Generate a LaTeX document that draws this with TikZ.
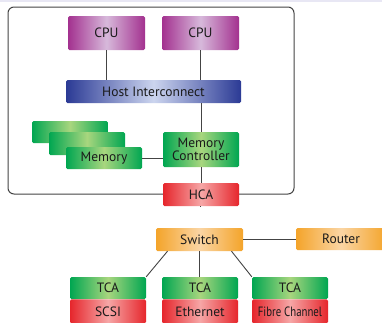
\documentclass[tikz,border=0pt]{standalone}
\usepackage{graphicx}
\usepackage{fontspec}
\setmainfont{PT Sans}
\definecolor{magEdge}{HTML}{A3318F}
\definecolor{magMid}{HTML}{D7B9DB}
\definecolor{bluEdge}{HTML}{2B3A95}
\definecolor{bluMid}{HTML}{CCD5EF}
\definecolor{grnEdge}{HTML}{00A651}
\definecolor{grnMid}{HTML}{A8D67E}
\definecolor{redEdge}{HTML}{E6262C}
\definecolor{redMid}{HTML}{F6A6A6}
\definecolor{orgEdge}{HTML}{F4A42A}
\definecolor{orgMid}{HTML}{FAD5A4}
\definecolor{wire}{HTML}{444444}
\definecolor{inkText}{HTML}{1A1A1A}
\definecolor{topStrip}{HTML}{E8E7F4}
\tikzset{
  unit/.style={rectangle, rounded corners=1.5pt, inner sep=0pt, text=inkText,
    font=\fontsize{13.5}{13.5}\selectfont},
  cpubox/.style={unit, left color=magEdge, right color=magEdge, middle color=magMid},
  busbox/.style={unit, left color=bluEdge, right color=bluEdge, middle color=bluMid},
  grnbox/.style={unit, left color=grnEdge, right color=grnEdge, middle color=grnMid},
  redbox/.style={unit, left color=redEdge, right color=redEdge, middle color=redMid},
  orgbox/.style={unit, left color=orgEdge, right color=orgEdge, middle color=orgMid},
  link/.style={draw=wire, line width=0.9pt},
}
\begin{document}
\begin{tikzpicture}[x=1pt, y=-1pt]
\useasboundingbox (0,0) rectangle (382,322);
\clip (0,0) rectangle (382,322);
\fill[white] (0,0) rectangle (382,322);
\fill[topStrip] (0,0) rectangle (382,2);

% host enclosure
\draw[draw=wire, line width=1pt, rounded corners=6pt] (8,7) rectangle (294,194);

% processors and interconnect
\node[cpubox, minimum width=77pt, minimum height=34pt] (cpu1) at (106.5,33) {CPU};
\node[cpubox, minimum width=77pt, minimum height=34pt] (cpu2) at (200.5,33) {CPU};
\node[busbox, minimum width=175pt, minimum height=23pt] (bus) at (153.5,91.5) {Host Interconnect};

% memory bank (stacked modules)
\node[grnbox, minimum width=76pt, minimum height=22pt] (mem3) at (70,132) {};
\node[grnbox, minimum width=76pt, minimum height=23pt] (mem2) at (87,143.5) {};
\node[grnbox, minimum width=76pt, minimum height=22pt] (mem1) at (104,158) {Memory};
\node[grnbox, minimum width=76pt, minimum height=35pt, align=center,
      font=\fontsize{13.5}{10.8}\selectfont] (mc) at (201,149.5) {Memory\\Controller};
\node[redbox, minimum width=76pt, minimum height=23pt] (hca) at (201,194.5) {HCA};

% fabric
\node[orgbox, minimum width=87pt, minimum height=23pt] (sw) at (199.5,239.5) {Switch};
\node[orgbox, minimum width=90pt, minimum height=22pt] (rt) at (341,239) {Router};

\node[grnbox, minimum width=76pt, minimum height=22pt] (tca1) at (108,288) {TCA};
\node[grnbox, minimum width=76pt, minimum height=22pt] (tca2) at (200,288) {TCA};
\node[grnbox, minimum width=76pt, minimum height=22pt] (tca3) at (290,288) {TCA};
\node[redbox, minimum width=76pt, minimum height=24pt, anchor=north] (io1) at (tca1.south) {SCSI};
\node[redbox, minimum width=76pt, minimum height=24pt, anchor=north] (io2) at (tca2.south) {Ethernet};
\node[redbox, minimum width=76pt, minimum height=24pt, anchor=north] (io3) at (tca3.south) {\scalebox{0.8}[1]{Fibre Channel}};

% connections
\draw[link] (cpu1.south) -- (cpu1.south |- bus.north);
\draw[link] (cpu2.south) -- (cpu2.south |- bus.north);
\draw[link] (mc.north) -- (mc.north |- bus.south);
\draw[link] (mem1.east) -- (mem1.east -| mc.west);
\draw[link] (mc.south) -- (hca.north);
\draw[link] (hca.south) -- (hca.south -| sw.north);
\draw[link] (sw.east) -- (sw.east -| rt.west);
\draw[link] ([xshift=-32pt]sw.south) -- (tca1.north east);
\draw[link] (sw.south) -- (sw.south |- tca2.north);
\draw[link] ([xshift=32pt]sw.south) -- (tca3.north west);
\end{tikzpicture}
\end{document}
